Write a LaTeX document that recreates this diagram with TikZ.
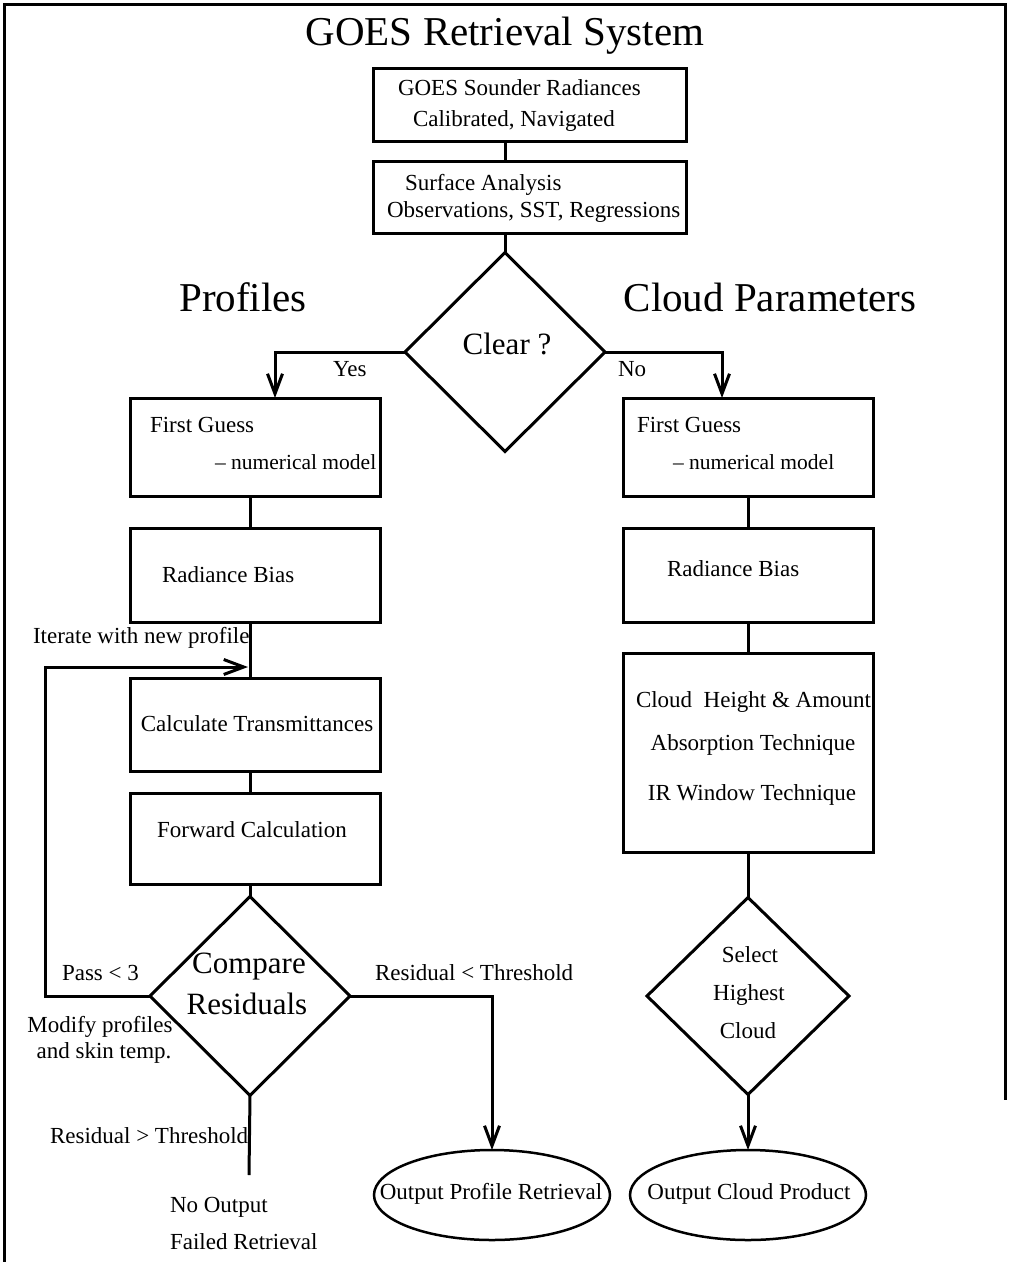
\documentclass[tikz,border=0pt]{standalone}
\usepackage{fontspec}
\setmainfont{Liberation Serif}
\usetikzlibrary{shapes.geometric,arrows.meta}
\begin{document}
\begin{tikzpicture}[x=1pt,y=-1pt,
  every node/.style={inner sep=0pt,outer sep=0pt},
  lw/.style={line width=3pt},
  box/.style={draw,lw,rectangle,minimum width=250pt},
  dia/.style={draw,lw,diamond,minimum width=200pt,minimum height=199pt},
  oval/.style={draw,line width=2.5pt,ellipse,minimum width=236pt,minimum height=90pt},
  txt/.style={font=\fontsize{23}{27}\selectfont,text height=16pt,text depth=5pt},
  txts/.style={font=\fontsize{21.5}{26}\selectfont,text height=16pt,text depth=5pt},
  big/.style={font=\fontsize{41}{47}\selectfont},
  mid/.style={font=\fontsize{31}{36}\selectfont},
  conn/.style={lw},
  arr/.style={lw,-{Straight Barb[length=20pt,width=15pt,line width=3pt]}}
]
\useasboundingbox (0,0) rectangle (1011,1262);
% border
\draw[lw] (4,1262) -- (4,4) -- (1005,4) -- (1005,1100);

\node[big] (title) at (505,36) {GOES Retrieval System};

% top boxes
\node[box,minimum width=313pt,minimum height=73pt] (b1) at (529.5,104.5) {};
\node[txt,anchor=west] (b1a) at (398,90) {GOES Sounder Radiances};
\node[txt,anchor=west] (b1b) at (413,121) {Calibrated, Navigated};
\node[box,minimum width=313pt,minimum height=72pt] (b2) at (529.5,197) {};
\node[txt,anchor=west] (b2a) at (405,185) {Surface Analysis};
\node[txt,anchor=west] (b2b) at (387,212) {Observations, SST, Regressions};

\node[big] (prof) at (243,297) {Profiles};
\node[big] (cpar) at (770,297) {Cloud Parameters};

\node[dia] (clear) at (505,352) {};
\node[mid] (cleart) at (507,344) {Clear ?};
\node[txt,anchor=west] (yes) at (333,371) {Yes};
\node[txt,anchor=west] (no) at (618,371) {No};

% left column
\node[box,minimum height=98pt] (fgL) at (255,447) {};
\node[txt,anchor=west] (fgLa) at (150,427) {First Guess};
\node[txts,anchor=west] (fgLb) at (215,464) {– numerical model};
\node[box,minimum height=94pt] (rbL) at (255,575) {};
\node[txt,anchor=west] (rbLa) at (162,577) {Radiance Bias};
\node[box,minimum height=93pt] (ctL) at (255,724.5) {};
\node[txt] (ctLa) at (257,726) {Calculate Transmittances};
\node[box,minimum height=91pt] (fcL) at (255,838.5) {};
\node[txt] (fcLa) at (252,832) {Forward Calculation};
\node[dia] (cmp) at (250,996) {};
\node[mid] (cmpa) at (249,967) {Compare};
\node[mid] (cmpb) at (247,1004) {Residuals};

\node[txt,anchor=west] (iter) at (33,638) {Iterate with new profile};
\node[txt,anchor=west] (pass) at (62,975) {Pass < 3};
\node[txt] (mod1) at (100,1027) {Modify profiles};
\node[txt] (mod2) at (104,1053) {and skin temp.};
\node[txt,anchor=west] (rlt) at (375,975) {Residual < Threshold};
\node[txt,anchor=west] (rgt) at (50,1138) {Residual > Threshold};
\node[txt,anchor=west] (noout) at (170,1207) {No Output};
\node[txt,anchor=west] (fail) at (170,1244) {Failed Retrieval};

\node[oval] (outP) at (492,1195) {};
\node[txt] (outPt) at (491,1194) {Output Profile Retrieval};
\node[oval] (outC) at (748,1195) {};
\node[txt] (outCt) at (749,1194) {Output Cloud Product};

% right column
\node[box,minimum height=98pt] (fgR) at (748,447) {};
\node[txt,anchor=west] (fgRa) at (637,427) {First Guess};
\node[txts,anchor=west] (fgRb) at (673,464) {– numerical model};
\node[box,minimum height=94pt] (rbR) at (748,575) {};
\node[txt,anchor=west] (rbRa) at (667,571) {Radiance Bias};
\node[box,minimum height=199pt] (cld) at (748,752.5) {};
\node[txt,anchor=west] (cld1) at (636,702) {Cloud\ \ Height \& Amount};
\node[txt] (cld2) at (753,745) {Absorption Technique};
\node[txt] (cld3) at (752,795) {IR Window Technique};
\node[dia,minimum width=202pt,minimum height=197pt] (sel) at (748,996) {};
\node[txt] (sel1) at (750,957) {Select};
\node[txt] (sel2) at (749,995) {Highest};
\node[txt] (sel3) at (748,1033) {Cloud};

% connectors
\draw[conn] (b1.south -| clear.north) -- (b2.north -| clear.north);
\draw[conn] (b2.south -| clear.north) -- (clear.north);
\draw[arr] (clear.west) -| ([xshift=20pt]fgL.north);
\draw[arr] (clear.east) -| ([xshift=-26pt]fgR.north);

\draw[conn] (fgL.south -| cmp.north) -- (rbL.north -| cmp.north);
\draw[conn] (rbL.south -| cmp.north) -- (ctL.north -| cmp.north);
\draw[conn] (ctL.south -| cmp.north) -- (fcL.north -| cmp.north);
\draw[conn] (fcL.south -| cmp.north) -- (cmp.north);
\coordinate (itL) at (45,667);
\coordinate (itE) at (248,667);
\draw[arr] (cmp.west) -| (itL) -- (itE);
\draw[arr] (cmp.east) -| (outP.north);
\coordinate (failEnd) at (249,1175);
\draw[conn] (cmp.south) -- (failEnd);

\draw[conn] (fgR.south) -- (rbR.north);
\draw[conn] (rbR.south) -- (cld.north);
\draw[conn] (cld.south) -- (sel.north);
\draw[arr] (sel.south) -- (outC.north);
\end{tikzpicture}
\end{document}
